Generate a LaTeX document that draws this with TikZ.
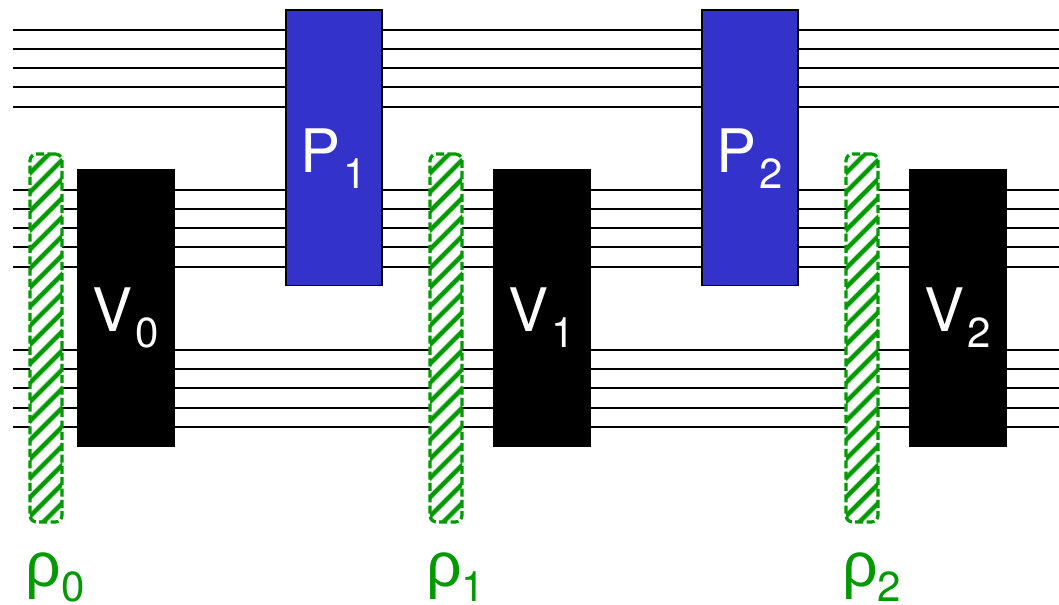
\documentclass[tikz,border=0pt]{standalone}
\usepackage{fontspec}
\setmainfont{TeX Gyre Heros}
\newfontfamily\rhofont{Liberation Sans}
\definecolor{hatchgreen}{RGB}{0,153,0}
\definecolor{pblue}{RGB}{51,51,204}
\newcommand{\lbl}[2]{\fontsize{45pt}{50pt}\selectfont #1\kern 0.06em\raisebox{-0.275em}{\fontsize{31.5pt}{34pt}\selectfont #2}}
\newcommand{\rlbl}[2]{\fontsize{47pt}{50pt}\selectfont {\rhofont #1}\kern -0.01em\raisebox{-0.24em}{\fontsize{31.5pt}{34pt}\selectfont #2}}
\tikzset{
  x=0.75pt,y=-0.75pt,
  wire/.style={draw=black,line width=1.5pt},
  vbox/.style={draw=none,fill=black,minimum width=73.5pt,minimum height=208.5pt,inner sep=0,outer sep=0,anchor=north west},
  pbox/.style={draw=black,line width=1.3pt,fill=pblue,minimum width=72pt,minimum height=206.7pt,inner sep=0,outer sep=0,anchor=north west},
  rhobar/.style={draw=hatchgreen,line width=2.4pt,dash pattern=on 6pt off 2.5pt,fill=white,rounded corners=5pt,minimum width=24pt,minimum height=276pt,inner sep=0,outer sep=0,anchor=north west,
    path picture={
      \foreach \k in {-2,...,25}{
        \draw[hatchgreen!35,line width=4.2pt,solid] ([yshift=-\k*14.3pt]path picture bounding box.north west) ++(-5pt,-5pt) -- ++(34pt,34pt);
        \draw[hatchgreen,line width=3pt,solid] ([yshift=-\k*14.3pt]path picture bounding box.north west) ++(-5pt,-5pt) -- ++(34pt,34pt);
      }}},
  vtext/.style={text=white,anchor=base west,inner sep=0,outer sep=0},
  rtext/.style={text=hatchgreen,anchor=base west,inner sep=0,outer sep=0}
}
\begin{document}
\begin{tikzpicture}
\useasboundingbox (0,0) rectangle (1059,604);
\foreach \y/\i in {30/a,49/b,68/c,87/d,107/e,190/f,209/g,228/h,247/i,267/j,350/k,369/l,388/m,408/n,427/o}{
  \coordinate (L\i) at (13,\y);
  \coordinate (R\i) at (1059,\y);
  \draw[wire] (L\i) -- (R\i);
}
\node[pbox] (P1) at (286,10) {};
\node[pbox] (P2) at (702,10) {};
\node[vbox] (V0) at (77,169) {};
\node[vbox] (V1) at (493,169) {};
\node[vbox] (V2) at (909,169) {};
\node[rhobar] (r0) at (30,154) {};
\node[rhobar] (r1) at (430,154) {};
\node[rhobar] (r2) at (846,154) {};
\node[vtext] (tV0) at (92,331) {\lbl{V}{0}};
\node[vtext] (tV1) at (508,331) {\lbl{V}{1}};
\node[vtext] (tV2) at (924,331) {\lbl{V}{2}};
\node[vtext] (tP1) at (300,172) {\lbl{P}{1}};
\node[vtext] (tP2) at (716,172) {\lbl{P}{2}};
\node[rtext] (t0) at (26,586) {\rlbl{ρ}{0}};
\node[rtext] (t1) at (426,586) {\rlbl{ρ}{1}};
\node[rtext] (t2) at (842,586) {\rlbl{ρ}{2}};
\end{tikzpicture}
\end{document}
